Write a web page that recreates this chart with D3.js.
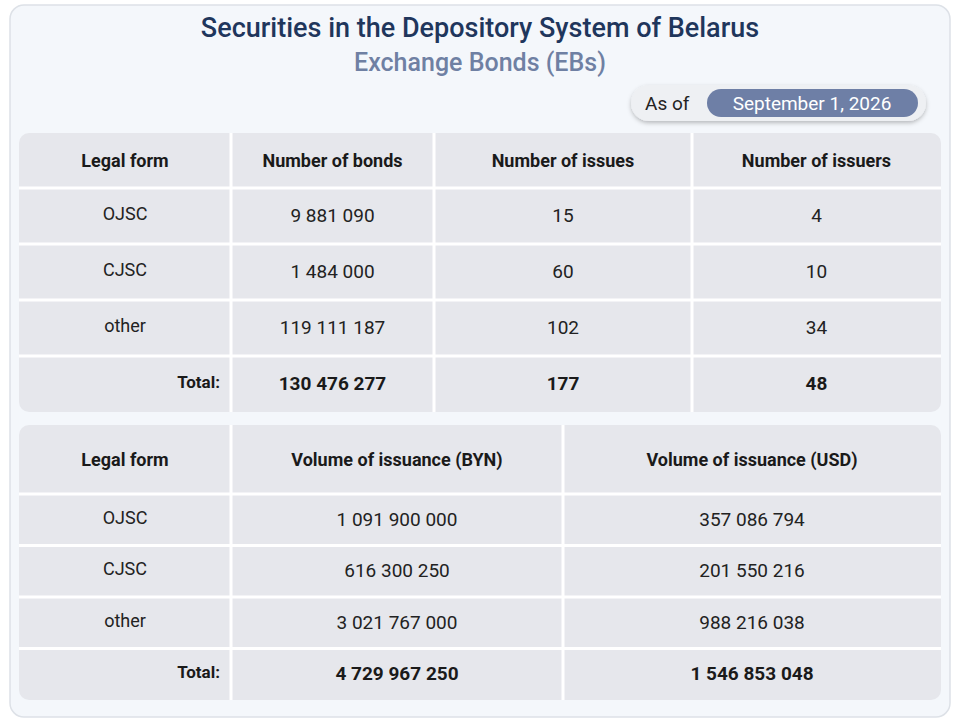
<!DOCTYPE html>
<html><head><meta charset="utf-8">
<script src="https://cdn.jsdelivr.net/npm/d3@7"></script>
<style>body{margin:0;background:#fff}svg{font-family:Roboto,"Open Sans",sans-serif}</style>
</head><body><svg id="chart" width="960" height="720"></svg>
<script>
const title = "Securities in the Depository System of Belarus";
const subtitle = "Exchange Bonds (EBs)";
const asOf = "September 1, 2026";
const legalForms = ["OJSC", "CJSC", "other"];

const headers1 = ["Legal form", "Number of bonds", "Number of issues", "Number of issuers"];
const bonds = ["9 881 090", "1 484 000", "119 111 187"];
const issues = ["15", "60", "102"];
const issuers = ["4", "10", "34"];
const totals1 = ["130 476 277", "177", "48"];

const headers2 = ["Legal form", "Volume of issuance (BYN)", "Volume of issuance (USD)"];
const volByn = ["1 091 900 000", "616 300 250", "3 021 767 000"];
const volUsd = ["357 086 794", "201 550 216", "988 216 038"];
const totals2 = ["4 729 967 250", "1 546 853 048"];

const svg = d3.select("#chart");
const defs = svg.append("defs");
const f = defs.append("filter").attr("id", "sh").attr("x", "-10%").attr("y", "-30%").attr("width", "120%").attr("height", "170%");
f.append("feDropShadow").attr("dx", 0).attr("dy", 2).attr("stdDeviation", 2).attr("flood-color", "#000").attr("flood-opacity", 0.25);

svg.append("rect").attr("x", 10).attr("y", 5).attr("width", 940).attr("height", 712).attr("rx", 14)
  .attr("fill", "#f4f7fb").attr("stroke", "#dde1e7").attr("stroke-width", 1.5);

svg.append("text").attr("x", 480).attr("y", 37).attr("text-anchor", "middle")
  .attr("font-size", 27).attr("font-weight", 500).attr("fill", "#1f365c").text(title);
svg.append("text").attr("x", 480).attr("y", 71).attr("text-anchor", "middle")
  .attr("font-size", 25).attr("font-weight", 500).attr("fill", "#6f80a3").text(subtitle);

// As-of pill
svg.append("rect").attr("x", 631).attr("y", 85).attr("width", 295).attr("height", 36).attr("rx", 18)
  .attr("fill", "#eef0f3").attr("filter", "url(#sh)");
svg.append("rect").attr("x", 707).attr("y", 89).attr("width", 211).attr("height", 28).attr("rx", 14).attr("fill", "#6e7fa6");
svg.append("text").attr("x", 645).attr("y", 110).attr("font-size", 19).attr("fill", "#222").text("As of");
svg.append("text").attr("x", 812).attr("y", 110).attr("text-anchor", "middle").attr("font-size", 19).attr("fill", "#fff").text(asOf);

function table(top, bottom, colEdges, headerH, headers, rows, totals) {
  const g = svg.append("g");
  const left = colEdges[0], right = colEdges[colEdges.length - 1];
  g.append("rect").attr("x", left).attr("y", top).attr("width", right - left).attr("height", bottom - top)
    .attr("rx", 10).attr("fill", "#e6e7ec");
  const bodyRows = legalForms.length + 1;
  const y = d3.scaleBand().domain(d3.range(bodyRows)).range([top + headerH, bottom]);
  // separators
  colEdges.slice(1, -1).forEach(x => g.append("line").attr("x1", x).attr("x2", x).attr("y1", top).attr("y2", bottom)
    .attr("stroke", "#fff").attr("stroke-width", 3));
  d3.range(bodyRows).forEach(i => g.append("line").attr("x1", left).attr("x2", right)
    .attr("y1", y(i)).attr("y2", y(i)).attr("stroke", "#fff").attr("stroke-width", 3));
  const cx = i => (colEdges[i] + colEdges[i + 1]) / 2;
  headers.forEach((h, i) => g.append("text").attr("x", cx(i)).attr("y", top + headerH / 2 + 6)
    .attr("text-anchor", "middle").attr("font-size", 18).attr("font-weight", 700).attr("fill", "#1a1a1a").text(h));
  legalForms.forEach((lf, r) => {
    const yy = y(r) + y.bandwidth() / 2;
    g.append("text").attr("x", cx(0)).attr("y", yy + 4).attr("text-anchor", "middle")
      .attr("font-size", 18).attr("fill", "#222").text(lf);
    rows.forEach((col, c) => g.append("text").attr("x", cx(c + 1)).attr("y", yy + 6).attr("text-anchor", "middle")
      .attr("font-size", 19).attr("fill", "#222").text(col[r]));
  });
  const ty = y(bodyRows - 1) + y.bandwidth() / 2;
  g.append("text").attr("x", colEdges[1] - 11).attr("y", ty + 4).attr("text-anchor", "end")
    .attr("font-size", 17).attr("font-weight", 700).attr("fill", "#1a1a1a").text("Total:");
  totals.forEach((t, c) => g.append("text").attr("x", cx(c + 1)).attr("y", ty + 6).attr("text-anchor", "middle")
    .attr("font-size", 19).attr("font-weight", 700).attr("fill", "#1a1a1a").text(t));
}

table(133, 412, [19, 231, 434, 692, 941], 55, headers1, [bonds, issues, issuers], totals1);
table(425, 700, [19, 231, 563, 941], 69, headers2, [volByn, volUsd], totals2);
</script></body></html>
